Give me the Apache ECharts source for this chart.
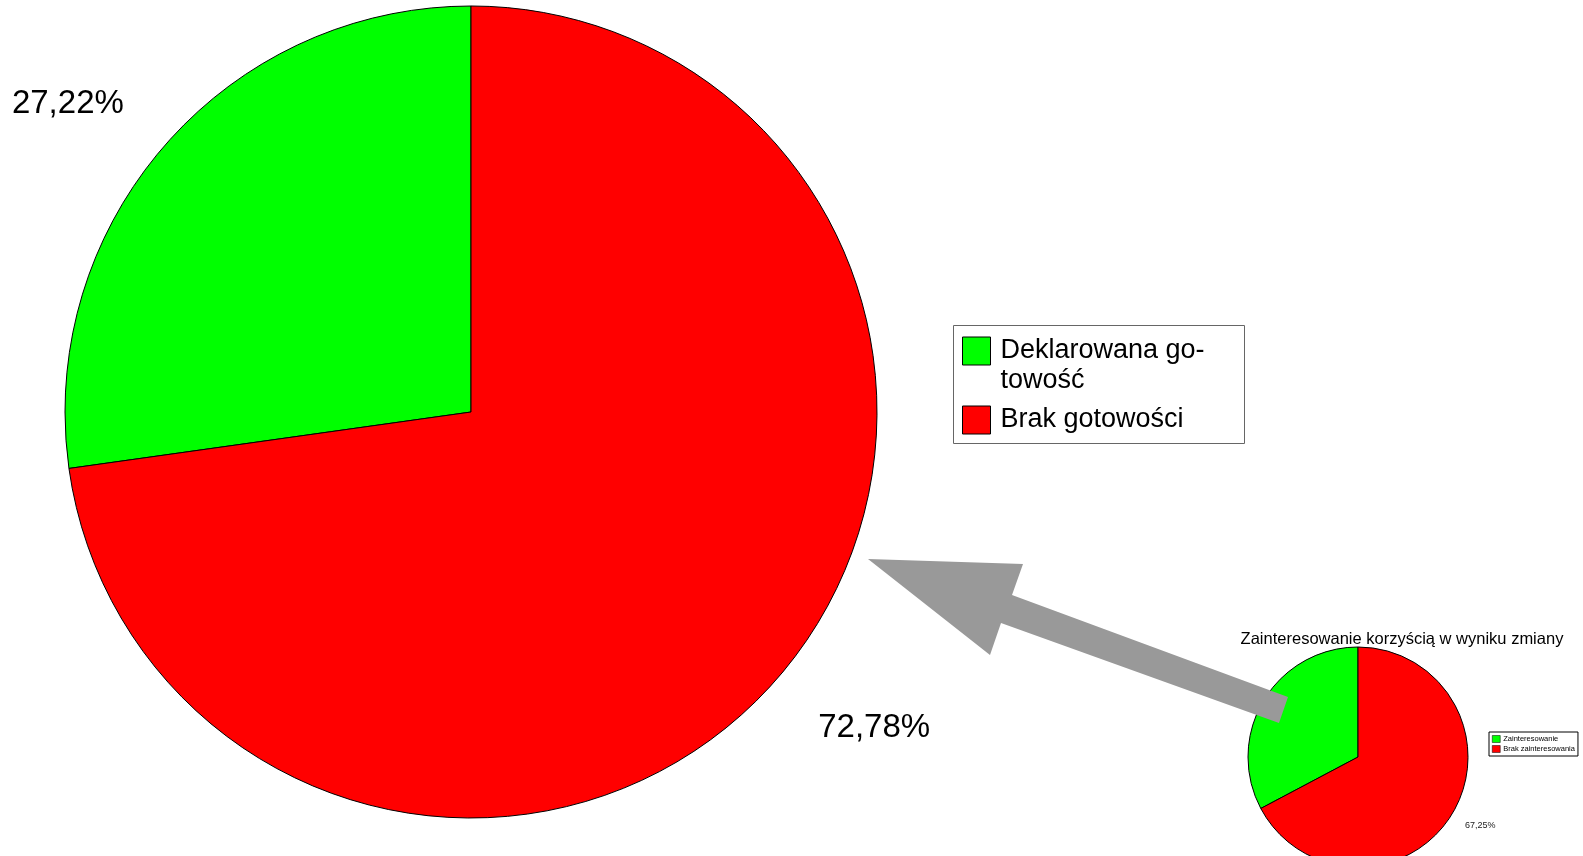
<!DOCTYPE html>
<html>
<head>
<meta charset="utf-8">
<script src="https://cdn.jsdelivr.net/npm/echarts@6/dist/echarts.min.js"></script>
<style>
html,body{margin:0;padding:0;background:#fff;}
#chart{width:1583px;height:856px;}
</style>
</head>
<body>
<div id="chart"></div>
<script>
// ---- data ----
const mainCategories = ['Deklarowana gotowość', 'Brak gotowości'];
const mainValues = [27.22, 72.78];
const subTitle = 'Zainteresowanie korzyścią w wyniku zmiany';
const subCategories = ['Zainteresowanie', 'Brak zainteresowania'];
const subValues = [32.75, 67.25];
const sliceColors = ['#00ff00', '#ff0000'];

// ---- layout ----
const FONT = '"Liberation Sans", Arial, sans-serif';
const mainCenter = [471, 412];
const mainRadius = 406;
const subCenter = [1358, 757];
const subRadius = 110;
const LABEL_RADIUS_RATIO = 1.255;
const LABEL_ANGLE_SHIFT = 3.3;
const LABEL_DY = 4;

function fmtPct(v) { return v.toFixed(2).replace('.', ',') + '%'; }

function labelPlacer(values, center, radius) {
  return function (params) {
    const i = params.dataIndex;
    const total = values.reduce((a, b) => a + b, 0);
    let start = 90;
    for (let k = 0; k < i; k++) start += values[k] / total * 360;
    const mid = (start + values[i] / total * 180 + LABEL_ANGLE_SHIFT) * Math.PI / 180;
    const R = radius * LABEL_RADIUS_RATIO;
    return {
      x: center[0] + R * Math.cos(mid),
      y: center[1] - R * Math.sin(mid) + LABEL_DY,
      align: 'center',
      verticalAlign: 'middle'
    };
  };
}

function pieData(cats, vals) {
  return cats.map((c, i) => ({ name: c, value: vals[i], itemStyle: { color: sliceColors[i] } }));
}

const chart = echarts.init(document.getElementById('chart'), null, { renderer: 'canvas' });

const option = {
  animation: false,
  backgroundColor: '#ffffff',
  color: sliceColors,
  title: {
    text: subTitle,
    left: 1397,
    top: 626,
    textAlign: 'center',
    textStyle: { fontFamily: FONT, fontSize: 16.5, fontWeight: 'normal', color: '#000' }
  },
  legend: [
    {
      data: [
        { name: mainCategories[0], textStyle: { padding: [0, 0, 0, 5] } },
        { name: mainCategories[1], textStyle: { padding: [0, 0, 0, 5] } }
      ],
      orient: 'vertical',
      left: 962,
      top: 306,
      padding: 0,
      itemGap: 9,
      itemWidth: 28,
      itemHeight: 28,
      icon: 'rect',
      selectedMode: false,
      itemStyle: { borderColor: '#000', borderWidth: 1 },
      formatter: function (name) {
        return name === mainCategories[0]
          ? '{s|.}\n{t|Deklarowana go-}\n{t|towość}'
          : '{t|' + name + '}';
      },
      textStyle: {
        fontFamily: FONT, fontSize: 27, lineHeight: 30, color: '#000',
        rich: {
          s: { fontFamily: FONT, fontSize: 27, lineHeight: 30, color: 'rgba(0,0,0,0)' },
          t: { fontFamily: FONT, fontSize: 27, lineHeight: 30, color: '#000' }
        }
      }
    },
    {
      data: subCategories,
      orient: 'vertical',
      left: 1489,
      top: 732,
      padding: [2, 3, 2, 3],
      itemGap: 0,
      itemWidth: 8,
      itemHeight: 7,
      icon: 'rect',
      selectedMode: false,
      borderColor: '#000',
      borderWidth: 1,
      itemStyle: { borderColor: '#000', borderWidth: 0.5 },
      textStyle: { fontFamily: FONT, fontSize: 7.5, lineHeight: 10, color: '#000', padding: [0, 0, 0, -2] }
    }
  ],
  series: [
    {
      type: 'pie',
      center: mainCenter,
      radius: mainRadius,
      startAngle: 90,
      clockwise: false,
      silent: true,
      legendHoverLink: false,
      avoidLabelOverlap: false,
      data: pieData(mainCategories, mainValues),
      itemStyle: { borderColor: '#000', borderWidth: 1 },
      label: {
        show: true,
        position: 'outside',
        formatter: p => fmtPct(p.value),
        fontFamily: FONT,
        fontSize: 33,
        color: '#000'
      },
      labelLine: { show: false },
      labelLayout: labelPlacer(mainValues, mainCenter, mainRadius),
      emphasis: { disabled: true }
    },
    {
      type: 'pie',
      center: subCenter,
      radius: subRadius,
      startAngle: 90,
      clockwise: false,
      silent: true,
      legendHoverLink: false,
      avoidLabelOverlap: false,
      data: pieData(subCategories, subValues),
      itemStyle: { borderColor: '#000', borderWidth: 1 },
      label: {
        show: true,
        position: 'outside',
        formatter: p => fmtPct(p.value),
        fontFamily: FONT,
        fontSize: 9,
        color: '#222'
      },
      labelLine: { show: false },
      labelLayout: labelPlacer(subValues, subCenter, subRadius),
      emphasis: { disabled: true }
    }
  ],
  graphic: [
    {
      type: 'rect',
      z: 50,
      shape: { x: 953.5, y: 325.5, width: 291, height: 118 },
      style: { fill: 'none', stroke: '#666', lineWidth: 1 }
    },
    {
      type: 'polygon',
      z: 100,
      shape: {
        points: [[868, 559], [1023, 564], [1012, 595], [1288, 697], [1279, 723], [1001, 623], [990, 655]]
      },
      style: { fill: '#999999', stroke: null }
    }
  ]
};

chart.setOption(option);
</script>
</body>
</html>
